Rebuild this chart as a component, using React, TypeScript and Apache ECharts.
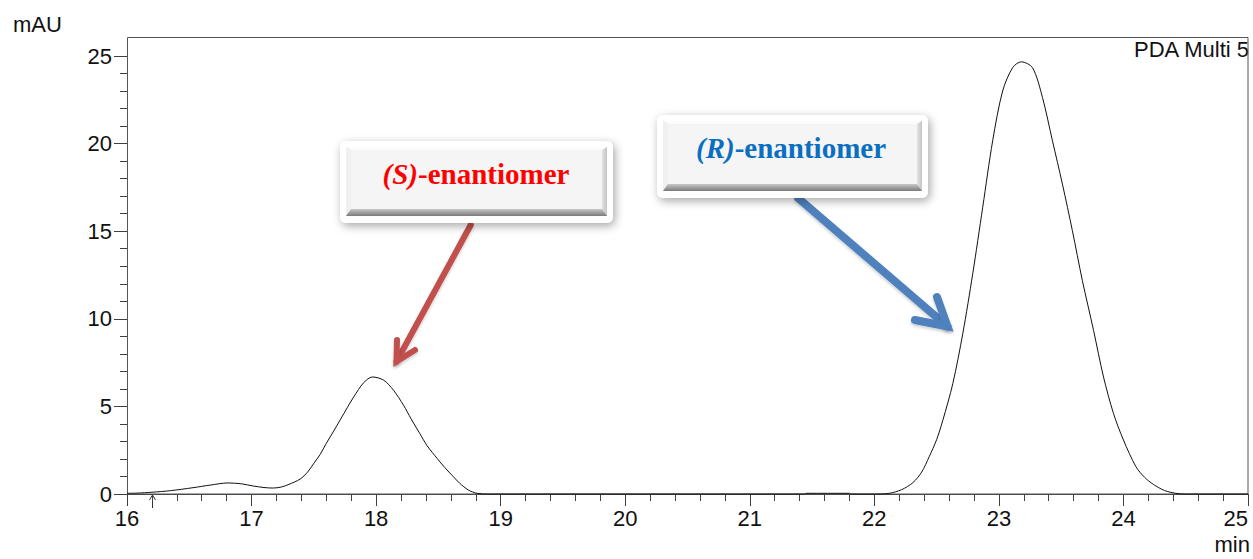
import React, { useEffect, useRef } from "react";
import * as echarts from "echarts";

// Retention time (min)
const times = [
  16.0, 16.08, 16.2, 16.35, 16.53, 16.67, 16.81, 16.92, 17.01, 17.1, 17.17, 17.24, 17.3,
  17.39, 17.45, 17.5, 17.55, 17.6, 17.66, 17.71, 17.77, 17.82, 17.9, 17.97, 18.06, 18.14,
  18.22, 18.28, 18.35, 18.41, 18.49, 18.55, 18.62, 18.67, 18.74, 18.81, 18.9, 19.5, 20.5,
  21.44, 21.45, 21.8, 21.81, 22.0, 22.12, 22.22, 22.31, 22.38, 22.44, 22.5, 22.55, 22.63,
  22.71, 22.79, 22.87, 22.95, 23.03, 23.11, 23.18, 23.27, 23.35, 23.43, 23.51, 23.59,
  23.67, 23.76, 23.84, 23.92, 24.0, 24.1, 24.17, 24.24, 24.33, 24.42, 24.5, 25.0,
];
// Absorbance (mAU)
const mAU = [
  0.04, 0.05, 0.1, 0.19, 0.36, 0.51, 0.63, 0.58, 0.46, 0.37, 0.34, 0.4, 0.55,
  0.85, 1.25, 1.75, 2.25, 2.89, 3.6, 4.21, 4.95, 5.54, 6.35, 6.68, 6.5, 5.92,
  5.07, 4.3, 3.46, 2.75, 2.03, 1.52, 0.99, 0.62, 0.23, 0.04, 0.0, 0.0, 0.0,
  0.0, 0.04, 0.04, 0.0, 0.0, 0.04, 0.25, 0.65, 1.25, 2.12, 3.1, 4.21, 6.3,
  9.15, 12.57, 16.36, 20.16, 23.0, 24.33, 24.67, 24.33, 22.63, 20.16, 17.69, 15.03,
  12.19, 9.34, 6.68, 4.6, 3.08, 1.56, 0.95, 0.55, 0.2, 0.04, 0.0, 0.0,
];

const xMin = 16;
const xMax = 25;
const yMin = 0;
const yMax = 25;
const injectionTime = 16.2;

const detectorLabel = "PDA Multi 5";
const yUnit = "mAU";
const xUnit = "min";
const sLabel = ["(S)", "-enantiomer"];
const rLabel = ["(R)", "-enantiomer"];

const SANS = "'Liberation Sans', Arial, Helvetica, sans-serif";
const SERIF = "'Liberation Serif', 'Times New Roman', Times, serif";

function buttonBox(x: number, y: number, w: number, h: number, label: string[], color: string, tx: number, ty: number) {
  const ix = x + 6, iy = y + 6, iw = w - 12, ih = h - 13;
  const l = 5, t = 3, r = 5, b = 7;
  return {
    type: "group",
    children: [
      {
        type: "rect",
        shape: { x, y, width: w, height: h, r: 6 },
        style: { fill: "#ffffff", shadowBlur: 10, shadowColor: "rgba(0,0,0,0.35)", shadowOffsetX: 2, shadowOffsetY: 3 },
      },
      { type: "rect", shape: { x: ix, y: iy, width: iw, height: ih }, style: { fill: "#dcdcdc" } },
      {
        type: "polygon",
        shape: { points: [[ix, iy], [ix + iw, iy], [ix + iw - r, iy + t], [ix + l, iy + t]] },
        style: { fill: "#fcfcfc" },
      },
      {
        type: "polygon",
        shape: { points: [[ix, iy], [ix + l, iy + t], [ix + l, iy + ih - b], [ix, iy + ih]] },
        style: { fill: "#f0f0f0" },
      },
      {
        type: "polygon",
        shape: { points: [[ix + iw, iy], [ix + iw, iy + ih], [ix + iw - r, iy + ih - b], [ix + iw - r, iy + t]] },
        style: {
          fill: new echarts.graphic.LinearGradient(0, 0, 1, 0, [
            { offset: 0, color: "#e2e2e2" },
            { offset: 1, color: "#c4c4c4" },
          ]),
        },
      },
      {
        type: "polygon",
        shape: { points: [[ix, iy + ih], [ix + l, iy + ih - b], [ix + iw - r, iy + ih - b], [ix + iw, iy + ih]] },
        style: {
          fill: new echarts.graphic.LinearGradient(0, 0, 0, 1, [
            { offset: 0, color: "#c8c8c8" },
            { offset: 1, color: "#7a7a7a" },
          ]),
        },
      },
      {
        type: "rect",
        shape: { x: ix + l, y: iy + t, width: iw - l - r, height: ih - t - b },
        style: { fill: "#f5f5f5" },
      },
      {
        type: "text",
        x: tx,
        y: ty,
        style: {
          text: `{i|${label[0]}}{b|${label[1]}}`,
          align: "center",
          verticalAlign: "middle",
          rich: {
            i: { fontFamily: SERIF, fontSize: 29, fontWeight: "bold", fontStyle: "italic", fill: color },
            b: { fontFamily: SERIF, fontSize: 29, fontWeight: "bold", fill: color },
          },
        },
      },
    ],
  };
}

function arrow(from: number[], to: number[], barbA: number[], barbB: number[], color: string, width: number) {
  const shadow = { shadowBlur: 3, shadowColor: "rgba(0,0,0,0.2)", shadowOffsetY: 2 };
  return {
    type: "group",
    children: [
      {
        type: "line",
        shape: { x1: from[0], y1: from[1], x2: to[0], y2: to[1] },
        style: { stroke: color, lineWidth: width, lineCap: "round", ...shadow },
      },
      {
        type: "polyline",
        shape: { points: [barbA, to, barbB] },
        style: { stroke: color, lineWidth: width, lineCap: "round", lineJoin: "miter", fill: null, ...shadow },
      },
    ],
  };
}

export default function App() {
  const ref = useRef<HTMLDivElement>(null);
  useEffect(() => {
    if (!ref.current) return;
    const chart = echarts.init(ref.current, undefined, { renderer: "svg" });
    const data = times.map((t, i) => [t, mAU[i]]);
    const axisColor = "#404040";
    const labelStyle = { fontSize: 22, fontFamily: SANS, color: "#111" };
    chart.setOption({
      animation: false,
      backgroundColor: "#ffffff",
      grid: { left: 127, right: 5, top: 56, bottom: 65, containLabel: false },
      xAxis: {
        type: "value",
        min: xMin,
        max: xMax,
        interval: 1,
        axisLine: { show: true, onZero: false, lineStyle: { color: axisColor, width: 1 } },
        axisTick: { show: true, inside: false, length: 12, lineStyle: { color: axisColor } },
        minorTick: { show: true, splitNumber: 5, length: 7, lineStyle: { color: axisColor } },
        splitLine: { show: false },
        minorSplitLine: { show: false },
        axisLabel: { ...labelStyle, margin: 13, alignMaxLabel: "right" },
      },
      yAxis: {
        type: "value",
        min: yMin,
        max: yMax,
        interval: 5,
        axisLine: { show: true, onZero: false, lineStyle: { color: axisColor, width: 1 } },
        axisTick: { show: true, inside: false, length: 13, lineStyle: { color: axisColor } },
        minorTick: { show: true, splitNumber: 5, length: 7, lineStyle: { color: axisColor } },
        splitLine: { show: false },
        minorSplitLine: { show: false },
        axisLabel: { ...labelStyle, margin: 15 },
      },
      series: [
        {
          type: "line",
          data,
          showSymbol: false,
          smooth: 0.3,
          clip: false,
          lineStyle: { color: "#111", width: 1 },
          z: 3,
        },
      ],
    });
    const p = chart.convertToPixel({ gridIndex: 0 }, [injectionTime, 0]) as number[];
    const px = Math.round(p[0]) + 0.5;
    const py = p[1];
    chart.setOption({
      graphic: [
        {
          type: "rect",
          shape: { x: 127.5, y: 37.5, width: 1120.5, height: 456.5 },
          style: { fill: null, stroke: "#555", lineWidth: 1 },
          z: 1,
        },
        {
          type: "text",
          x: 13,
          y: 13,
          style: { text: yUnit, font: `22px ${SANS}`, fill: "#111", verticalAlign: "top" },
        },
        {
          type: "text",
          x: 1249,
          y: 38,
          style: { text: detectorLabel, font: `22px ${SANS}`, fill: "#111", align: "right", verticalAlign: "top" },
        },
        {
          type: "text",
          x: 1250,
          y: 533,
          style: { text: xUnit, font: `22px ${SANS}`, fill: "#111", align: "right", verticalAlign: "top" },
        },
        {
          type: "group",
          children: [
            { type: "line", shape: { x1: px, y1: py + 1, x2: px, y2: py + 14 }, style: { stroke: "#333", lineWidth: 1 } },
            { type: "polyline", shape: { points: [[px - 3, py + 6], [px, py + 1], [px + 3, py + 6]] }, style: { stroke: "#333", lineWidth: 1, fill: null } },
          ],
        },
        arrow([470.7, 225], [396.5, 361.5], [397, 340], [415, 350], "#c0504d", 6),
        arrow([798.3, 198.3], [947.5, 326.5], [937, 297], [915, 320], "#4f81bd", 8),
        buttonBox(340, 141, 273, 82, sLabel, "#ff0000", 476, 174),
        buttonBox(657, 115, 271, 83, rLabel, "#0b6fc1", 791, 148),
      ],
    });
    return () => chart.dispose();
  }, []);
  return (
    <div
      ref={ref}
      style={{ position: "fixed", left: 0, top: 0, width: 1253, height: 559, background: "#fff" }}
    />
  );
}
